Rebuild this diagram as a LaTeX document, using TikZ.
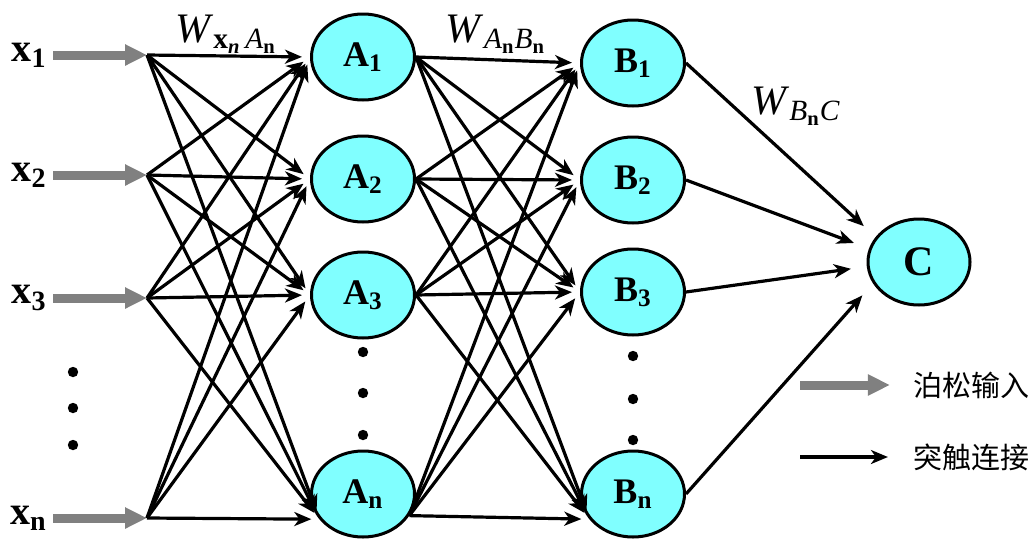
\documentclass[tikz,border=0pt]{standalone}
\usepackage{fontspec}
\setmainfont{Liberation Serif}
\newfontfamily\cjk{Noto Sans CJK SC}
\usetikzlibrary{arrows}
\usetikzlibrary{arrows.meta}
\usetikzlibrary{shapes.geometric}

\definecolor{neuroncyan}{RGB}{128,255,255}
\definecolor{poissongray}{RGB}{128,128,128}

\tikzset{
  neuron/.style={ellipse, draw=black, line width=1.5pt, fill=neuroncyan,
    minimum width=51.5pt, minimum height=43pt, inner sep=0pt,
    font=\fontsize{18}{18}\selectfont\bfseries},
  syn/.style={black, line width=1.6pt, ->, >={Stealth[length=8.5pt,width=7pt,inset=2.5pt]}},
  poisson/.style={poissongray, line width=4.5pt, -{Triangle[length=11pt,width=10pt]}},
  xlab/.style={inner sep=0pt, anchor=east, font=\fontsize{20}{20}\selectfont\bfseries},
  wlab/.style={inner sep=0pt, font=\fontsize{21}{21}\selectfont},
  dot/.style={fill=black}
}

\begin{document}
\begin{tikzpicture}[x=0.5pt, y=-0.5pt]
\useasboundingbox (0,0) rectangle (1033,547);

% inputs
\node[xlab] (x1) at (47,55)  {x\textsubscript{1}};
\node[xlab] (x2) at (47,175) {x\textsubscript{2}};
\node[xlab] (x3) at (47,298) {x\textsubscript{3}};
\node[xlab] (xn) at (47,518) {x\textsubscript{n}};
\foreach \i/\y in {1/55, 2/175, 3/298, n/518} {
  \coordinate (p\i) at (147,\y);
  \draw[poisson] (x\i.east) ++(3pt,0) -- (p\i);
}
\foreach \y in {372, 408, 445} \fill[dot] (73,\y) circle (2.6pt);

% neurons
\node[neuron] (A1) at (363,57)  {A\textsubscript{1}};
\node[neuron] (A2) at (363,179) {A\textsubscript{2}};
\node[neuron] (A3) at (363,295) {A\textsubscript{3}};
\node[neuron] (An) at (363,494) {A\textsubscript{n}};
\node[neuron] (B1) at (633,63)  {B\textsubscript{1}};
\node[neuron] (B2) at (633,180) {B\textsubscript{2}};
\node[neuron] (B3) at (633,292) {B\textsubscript{3}};
\node[neuron] (Bn) at (633,494) {B\textsubscript{n}};
\node[neuron, minimum width=51pt, font=\fontsize{21}{21}\selectfont\bfseries] (C) at (919,262) {C};
\foreach \y in {352, 393, 435} \fill[dot] (363,\y) circle (2.6pt);
\foreach \y in {356, 399, 440} \fill[dot] (633,\y) circle (2.6pt);

% input layer -> A
\foreach \i in {1,2,3,n}
  \foreach \j/\a in {1/180, 2/180, 3/180, n/210}
    \draw[syn, shorten >=4pt] (p\i) -- (A\j.\a);

% A -> B
\foreach \i/\b in {1/0, 2/0, 3/0, n/335}
  \foreach \j/\a in {1/180, 2/180, 3/180, n/210}
    \draw[syn, shorten >=4pt] (A\i.\b) -- (B\j.\a);

% B -> C
\foreach \i/\a in {1/150, 2/165, 3/185, n/205}
  \draw[syn, shorten >=8pt] (B\i.east) -- (C.\a);

% weights
\node[wlab] (w1) at (226,34) {\textit{W}\textsubscript{\textbf{x}\textsubscript{\textbf{\textit{n}}}\,\textit{A}\textsubscript{\textbf{n}}}};
\node[wlab] (w2) at (496,34) {\textit{W}\textsubscript{\textit{A}\textsubscript{\textbf{n}}\textit{B}\textsubscript{\textbf{n}}}};
\node[wlab] (w3) at (796,106) {\textit{W}\textsubscript{\textit{B}\textsubscript{\textbf{n}}\textit{C}}};

% legend
\coordinate (lg1) at (800,385);
\coordinate (lg2) at (800,457);
\node[font=\fontsize{14.5}{14.5}\selectfont\cjk] (leg1) at (971,385) {泊松输入};
\node[font=\fontsize{14.5}{14.5}\selectfont\cjk] (leg2) at (971,457) {突触连接};
\draw[poisson] (lg1) -- ([xshift=-8pt]leg1.west);
\draw[syn] (lg2) -- ([xshift=-9pt]leg2.west);
\end{tikzpicture}
\end{document}
